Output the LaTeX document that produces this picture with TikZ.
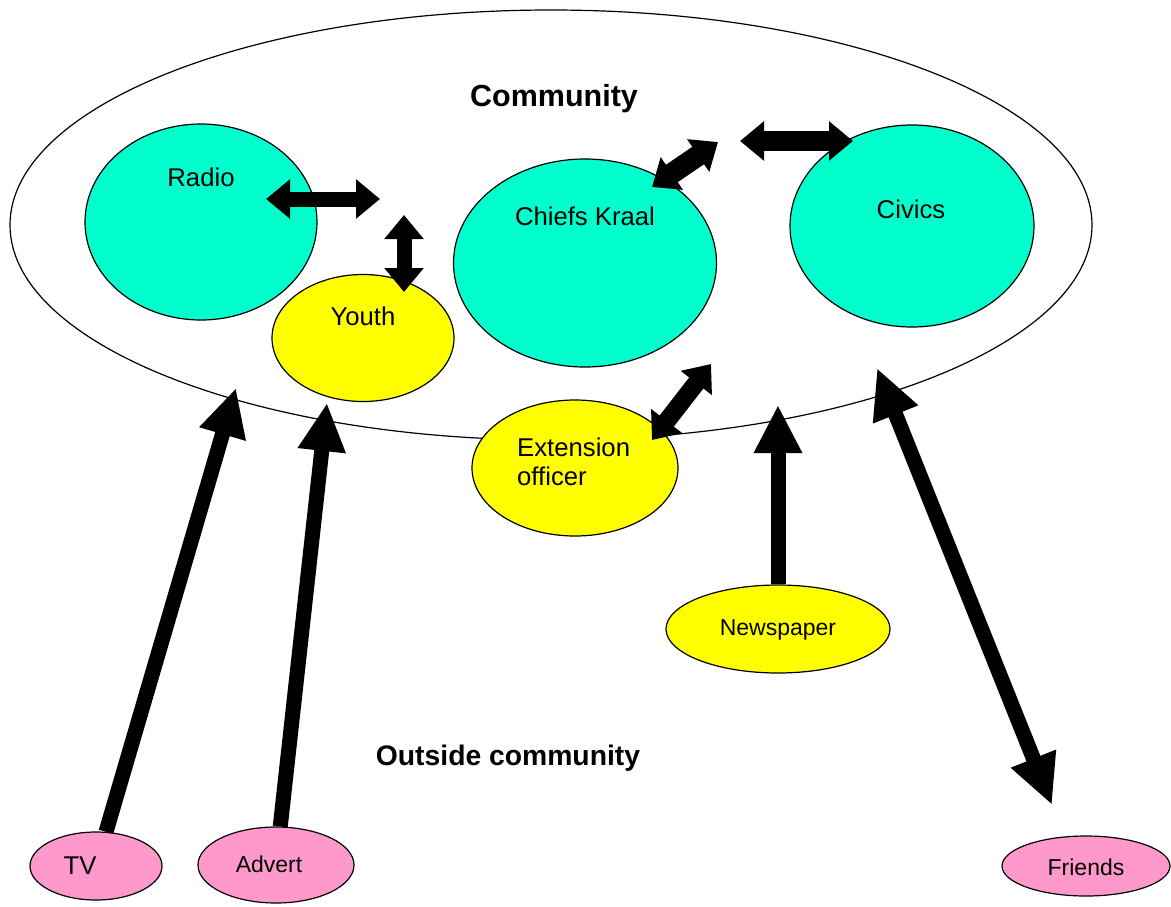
\documentclass[tikz,border=0pt]{standalone}
\usepackage{fontspec}
\setmainfont{Liberation Sans}
\usetikzlibrary{shapes.geometric, arrows.meta}
\definecolor{civcol}{RGB}{0,255,204}
\definecolor{yelcol}{RGB}{255,255,0}
\definecolor{pnkcol}{RGB}{255,153,204}

\begin{document}
\begin{tikzpicture}[x=1pt, y=-1pt,
  blob/.style={draw, ellipse, line width=1.2pt, inner sep=0pt},
  lbl/.style={inner sep=0pt, font=\fontsize{25.7}{29}\selectfont},
  sml/.style={inner sep=0pt, font=\fontsize{23}{27}\selectfont},
  ttl/.style={inner sep=0pt, font=\fontsize{30.5}{34}\selectfont\bfseries},
  bigarr/.style={line width=15pt, line join=miter, -{Triangle[length=48pt,width=45pt]}},
  bigdbl/.style={line width=15pt, line join=miter, {Triangle[length=50pt,width=45pt]}-{Triangle[length=50pt,width=45pt]}},
  dbl/.style={line width=15pt, line join=miter, {Triangle[length=24pt,width=38pt]}-{Triangle[length=24pt,width=38pt]}}]
\useasboundingbox (0,0) rectangle (1171,906);

\node[blob, minimum width=1082pt, minimum height=430pt] (comm) at (551,225) {};
\node[ttl] (commtxt) at (554,99) {Community};
\node[ttl, font=\fontsize{28.3}{32}\selectfont\bfseries] (outtxt) at (508,758) {Outside community};

\node[blob, fill=civcol, minimum width=232pt, minimum height=196pt] (radio) at (201,222) {};
\node[blob, fill=yelcol, minimum width=182pt, minimum height=127pt] (youth) at (363,338) {};
\node[blob, fill=civcol, minimum width=263pt, minimum height=208pt] (chief) at (585,263) {};
\node[blob, fill=civcol, minimum width=244pt, minimum height=202pt] (civ) at (912,226) {};
\node[blob, fill=yelcol, minimum width=206pt, minimum height=136pt] (ext) at (575,468) {};
\node[blob, fill=yelcol, minimum width=224pt, minimum height=88pt] (news) at (778,629) {};
\node[blob, fill=pnkcol, minimum width=132pt, minimum height=68pt] (tv) at (96,866) {};
\node[blob, fill=pnkcol, minimum width=156pt, minimum height=76pt] (adv) at (276,865) {};
\node[blob, fill=pnkcol, minimum width=168pt, minimum height=60pt] (fr) at (1086,866) {};

\node[lbl] (radiotxt) at (201,177) {Radio};
\node[lbl] (youthtxt) at (363,316) {Youth};
\node[lbl] (chieftxt) at (585,216) {Chiefs Kraal};
\node[lbl] (civtxt) at (911,209) {Civics};
\node[lbl, align=left, anchor=west] (exttxt) at (517,462) {Extension\\officer};
\node[sml] (newstxt) at (778,630) {Newspaper};
\node[lbl] (tvtxt) at (80,866) {TV};
\node[sml] (advtxt) at (269,864) {Advert};
\node[sml] (frtxt) at (1086,867) {Friends};

\coordinate (tvtip) at (236,388);
\coordinate (advtip) at (327,403);
\coordinate (newstip) at (778,405);
\coordinate (frtop) at (877,368);
\coordinate (frbot) at (1052,805);
\coordinate (r1) at (266,199);
\coordinate (r2) at (380,199);
\coordinate (y1) at (404,215);
\coordinate (y2) at (404,292);
\coordinate (c1) at (652,187);
\coordinate (c2) at (718,142);
\coordinate (v1) at (740,141);
\coordinate (v2) at (853,141);
\coordinate (e1) at (652,440);
\coordinate (e2) at (711,364);

\draw[bigarr] (tv) -- (tvtip);
\draw[bigarr] (adv) -- (advtip);
\draw[bigarr] (news) -- (newstip);
\draw[bigdbl] (frtop) -- (frbot);
\draw[dbl] (r1) -- (r2);
\draw[dbl] (y1) -- (y2);
\draw[dbl, line width=21pt] (c1) -- (c2);
\draw[dbl, line width=20pt] (v1) -- (v2);
\draw[dbl, line width=18pt] (e1) -- (e2);
\end{tikzpicture}
\end{document}
